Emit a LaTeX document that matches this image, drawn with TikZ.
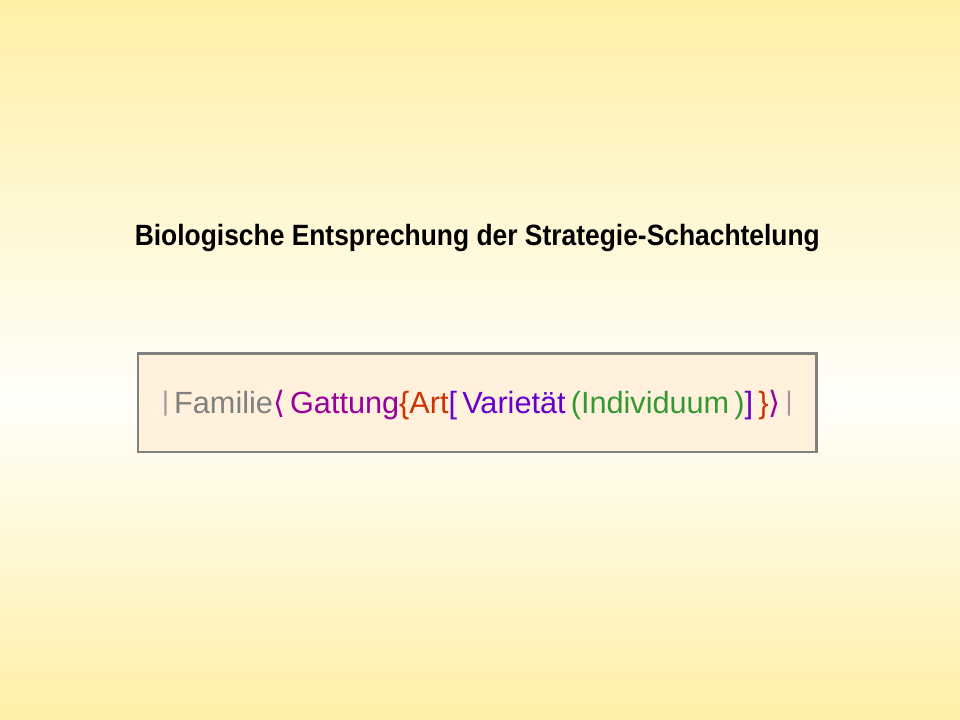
\documentclass[tikz,border=0pt]{standalone}
\usepackage{fontspec}
\setmainfont{Liberation Sans}
\newfontfamily\titlefont[FakeStretch=0.9]{Liberation Sans Bold}
\newfontfamily\symfont{DejaVu Sans}
\definecolor{bgyellow}{HTML}{FFF0A6}
\definecolor{bgwhite}{HTML}{FFFEFA}
\definecolor{boxfill}{HTML}{FFF1DC}
\definecolor{boxline}{HTML}{808080}
\definecolor{cfam}{HTML}{808080}
\definecolor{cbar}{HTML}{9A9A9A}
\definecolor{cgat}{HTML}{990099}
\definecolor{cart}{HTML}{CC3300}
\definecolor{cvar}{HTML}{6600CC}
\definecolor{cind}{HTML}{339933}
\newcommand{\nestbar}{\textcolor{cbar}{\raisebox{2.5pt}{\fontsize{20}{22}\selectfont|}}}
\begin{document}
\begin{tikzpicture}[x=1pt,y=1pt,
    nestbox/.style={draw=boxline,line width=2.2pt,fill=boxfill,minimum width=509pt,minimum height=74pt,inner sep=0pt},
    ]
    % background
    \shade[top color=bgyellow,bottom color=bgwhite] (0,0) rectangle (720,-300);
    \shade[top color=bgwhite,bottom color=bgyellow] (0,-300) rectangle (720,-540);
    \useasboundingbox (0,0) rectangle (720,-540);
    \node[anchor=base,inner sep=0pt] (title) at (358,-184) {\titlefont\fontsize{22}{26}\selectfont Biologische Entsprechung der Strategie-Schachtelung};
    \node[nestbox] (box) at (358,-302) {};
    \node[anchor=base,inner sep=0pt] (nest) at (358,-310) {\fontsize{23}{27}\selectfont
        \nestbar\,\textcolor{cfam}{Familie}%
        \textcolor{cgat}{\symfont ⟨}\,\textcolor{cgat}{Gattung}%
        \textcolor{cart}{\{}\textcolor{cart}{Art}%
        \textcolor{cvar}{[}\,\textcolor{cvar}{Varietät}\,%
        \textcolor{cind}{(}\textcolor{cind}{Individuum}\,\textcolor{cind}{)}%
        \textcolor{cvar}{]}\,\textcolor{cart}{\}}%
        \textcolor{cgat}{\symfont ⟩}\,\nestbar};
\end{tikzpicture}
\end{document}
